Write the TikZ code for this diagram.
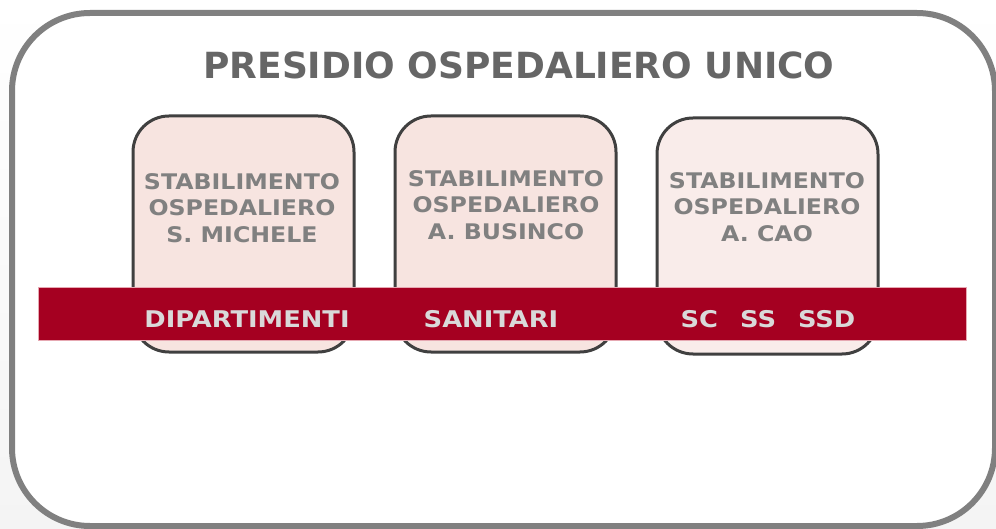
\documentclass[tikz,border=0pt]{standalone}
\usepackage{fontspec}
\setmainfont{DejaVu Sans}
\newfontfamily\widebox[FakeStretch=1.10]{DejaVu Sans}
\newfontfamily\wideband[FakeStretch=1.12]{DejaVu Sans}
\definecolor{outerline}{HTML}{808080}
\definecolor{boxline}{HTML}{404040}
\definecolor{boxfill}{HTML}{F7E4E0}
\definecolor{boxfillb}{HTML}{F9ECEA}
\definecolor{bandred}{HTML}{A50021}
\definecolor{bandedge}{HTML}{E6A8B2}
\definecolor{titlegray}{HTML}{666666}
\definecolor{boxtext}{HTML}{808080}
\definecolor{bandtext}{HTML}{D9D9D9}
\definecolor{bggray}{HTML}{F4F4F4}
\tikzset{
  outerbox/.style={draw=outerline, line width=6pt, rounded corners=78pt},
  sitebox/.style={draw=boxline, line width=3pt, rounded corners=36pt, fill=boxfill},
  sitetext/.style={font=\widebox\fontsize{21.5}{26.5}\selectfont\bfseries, text=boxtext, align=center, inner sep=0pt, anchor=north},
  bandtxt/.style={font=\wideband\fontsize{23}{27}\selectfont\bfseries, text=bandtext, inner sep=0pt, anchor=base},
}
\begin{document}
\begin{tikzpicture}[x=1pt,y=-1pt]
\useasboundingbox (0,0) rectangle (996,529);
\shade[top color=white, bottom color=bggray] (0,0) rectangle (996,529);
\draw[outerbox, fill=white] (12,13) rectangle (995,526);
% title
\node[font=\fontsize{36}{40}\selectfont\bfseries, text=titlegray, inner sep=0pt, anchor=base] (title) at (519,79) {PRESIDIO OSPEDALIERO UNICO};
% site boxes
\draw[sitebox] (133,116) rectangle (354,352);
\draw[sitebox] (395,116) rectangle (616,352);
\draw[sitebox, fill=boxfillb] (657,118) rectangle (878,354);
\node[sitetext] (s1) at (242,173) {STABILIMENTO\\OSPEDALIERO\\S. MICHELE};
\node[sitetext] (s2) at (506,170) {STABILIMENTO\\OSPEDALIERO\\A. BUSINCO};
\node[sitetext] (s3) at (767,172) {STABILIMENTO\\OSPEDALIERO\\A. CAO};
% band
\draw[fill=bandred, draw=bandedge, line width=0.8pt] (38,287) rectangle (966,340);
\node[bandtxt] (dip) at (247,327) {DIPARTIMENTI};
\node[bandtxt] (san) at (491,327) {SANITARI};
\node[bandtxt] (sc) at (768,327) {SC\hspace{22pt}SS\hspace{22pt}SSD};
\end{tikzpicture}
\end{document}
